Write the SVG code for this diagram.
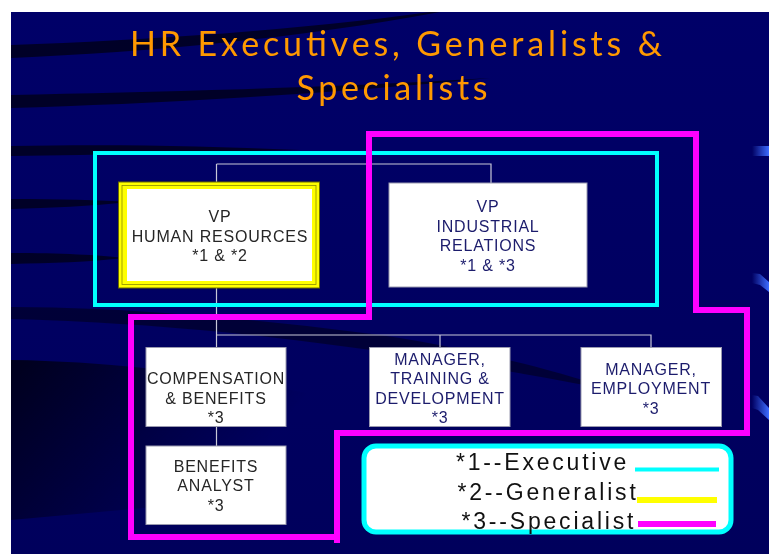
<svg xmlns="http://www.w3.org/2000/svg" width="769" height="554" viewBox="0 0 769 554">
<defs>
<style>
.bx{fill:#ffffff;stroke:#9a9ab0;stroke-width:1}
.t{font-family:"Liberation Sans",Arial,sans-serif;font-size:16px;letter-spacing:0.8px;text-anchor:middle}
.dk{fill:#262626}
.nv{fill:#1c1c6c}
.con{fill:none;stroke:#c8c8d8;stroke-width:1.2}
.lg{font-family:"Liberation Sans",Arial,sans-serif;font-size:23px;letter-spacing:2.8px;fill:#111111}
.title{font-family:Lato,"Open Sans",sans-serif;font-size:34px;fill:#FF9900;text-anchor:middle}
</style>
<linearGradient id="bg" x1="0" y1="0" x2="0" y2="1">
<stop offset="0" stop-color="#000068"/>
<stop offset="1" stop-color="#00005c"/>
</linearGradient>
<linearGradient id="dash" x1="0" y1="0" x2="1" y2="0">
<stop offset="0" stop-color="#000062"/>
<stop offset="1" stop-color="#3d6cff"/>
</linearGradient>
<linearGradient id="shade" gradientUnits="userSpaceOnUse" x1="11" y1="360" x2="200" y2="520">
<stop offset="0" stop-color="#000010" stop-opacity="0.85"/>
<stop offset="1" stop-color="#000010" stop-opacity="0"/>
</linearGradient>
</defs>
<rect x="0" y="0" width="769" height="554" fill="#ffffff"/>
<rect x="11" y="12" width="758" height="542" fill="url(#bg)"/>
<g id="swooshes" fill="#000018" opacity="0.8">
<path d="M11,45 C150,40 300,30 430,12 L440,12 C300,38 150,52 11,58 Z"/>
<path d="M11,95 C150,92 330,88 490,78 C330,94 150,104 11,108 Z"/>
<path d="M11,146 C120,144 200,146 300,150 C200,152 100,155 11,156 Z"/>
<path d="M11,199 C60,199 100,200 130,202 C90,206 50,208 11,209 Z"/>
<path d="M11,253 C60,253 100,255 125,258 C90,262 50,263 11,264 Z"/>
<path d="M11,307 C120,307 250,318 380,335 C480,350 560,372 620,392 C520,372 400,352 260,336 C150,324 60,320 11,319 Z" opacity="0.7"/>
</g>
<path d="M11,360 C150,362 280,385 380,410 C450,428 510,448 560,470 L11,520 Z" fill="url(#shade)"/>
<g id="edge-dashes">
<polygon points="752,146 769,146 769,156 752,156" fill="url(#dash)"/>
<polygon points="752,273 760,274 769,282 769,292 760,285 752,283" fill="url(#dash)"/>
<polygon points="752,395 758,396 769,408 769,420 758,410 752,408" fill="url(#dash)"/>
</g>
<g id="title">
<text class="title" x="396" y="56" textLength="532" lengthAdjust="spacing">HR Executives, Generalists &amp;</text>
<text class="title" x="392" y="100" textLength="191" lengthAdjust="spacing">Specialists</text>
</g>
<g id="connectors">
<path class="con" d="M216.5,164 H491 V183"/>
<path class="con" d="M216.5,164 V182"/>
<path class="con" d="M216.5,288 V347"/>
<path class="con" d="M216.5,335 H651 V347"/>
<path class="con" d="M440,335 V347"/>
<path class="con" d="M216.5,427 V446"/>
</g>
<g id="executive-group">
<rect x="95" y="153" width="562" height="152" fill="none" stroke="#00FFFF" stroke-width="4"/>
</g>
<g id="vp-hr">
<rect x="118.5" y="182" width="201" height="106" fill="#FFFF00" stroke="#6b6b00" stroke-width="1"/>
<rect x="122" y="185.5" width="194" height="99" fill="none" stroke="#8c8c00" stroke-width="0.8"/>
<rect x="127" y="189" width="185" height="92" fill="#ffffff"/>
<text class="t dk" x="220"><tspan x="220" y="222">VP</tspan><tspan x="220" y="242">HUMAN RESOURCES</tspan><tspan x="220" y="261">*1 &amp; *2</tspan></text>
</g>
<g id="vp-ir">
<rect class="bx" x="389" y="183" width="198" height="104"/>
<text class="t nv" x="488"><tspan x="488" y="212">VP</tspan><tspan x="488" y="232">INDUSTRIAL</tspan><tspan x="488" y="251">RELATIONS</tspan><tspan x="488" y="271">*1 &amp; *3</tspan></text>
</g>
<g id="comp-benefits">
<rect class="bx" x="146" y="347.5" width="140" height="79"/>
<text class="t dk" x="216"><tspan x="216" y="384">COMPENSATION</tspan><tspan x="216" y="404">&amp; BENEFITS</tspan><tspan x="216" y="423">*3</tspan></text>
</g>
<g id="benefits-analyst">
<rect class="bx" x="146" y="446" width="140" height="78.5"/>
<text class="t dk" x="216"><tspan x="216" y="472">BENEFITS</tspan><tspan x="216" y="491">ANALYST</tspan><tspan x="216" y="511">*3</tspan></text>
</g>
<g id="mgr-training">
<rect class="bx" x="369.5" y="347.5" width="140.5" height="79"/>
<text class="t nv" x="440"><tspan x="440" y="364.5">MANAGER,</tspan><tspan x="440" y="384">TRAINING &amp;</tspan><tspan x="440" y="404">DEVELOPMENT</tspan><tspan x="440" y="423">*3</tspan></text>
</g>
<g id="mgr-employment">
<rect class="bx" x="581" y="347.5" width="140.5" height="79"/>
<text class="t nv" x="651"><tspan x="651" y="374.5">MANAGER,</tspan><tspan x="651" y="394">EMPLOYMENT</tspan><tspan x="651" y="414">*3</tspan></text>
</g>
<g id="specialist-group">
<path d="M369,134 H696 V310 H747 V433 H337 V537 H131 V317 H369 Z" fill="none" stroke="#FF00FF" stroke-width="6" stroke-linejoin="miter"/>
<path d="M337,537 V543" stroke="#FF00FF" stroke-width="6"/>
</g>
<g id="legend">
<rect x="364" y="446" width="367" height="86" rx="12" ry="12" fill="#ffffff" stroke="#00FFFF" stroke-width="5"/>
<text class="lg" x="456" y="470">*1--Executive</text>
<text class="lg" x="457.5" y="500">*2--Generalist</text>
<text class="lg" x="461.5" y="528.5">*3--Specialist</text>
<line x1="635" y1="469.5" x2="719" y2="469.5" stroke="#00FFFF" stroke-width="4"/>
<line x1="637" y1="500" x2="717" y2="500" stroke="#FFFF00" stroke-width="6"/>
<line x1="638" y1="524" x2="716" y2="524" stroke="#FF00FF" stroke-width="6"/>
</g>
</svg>
